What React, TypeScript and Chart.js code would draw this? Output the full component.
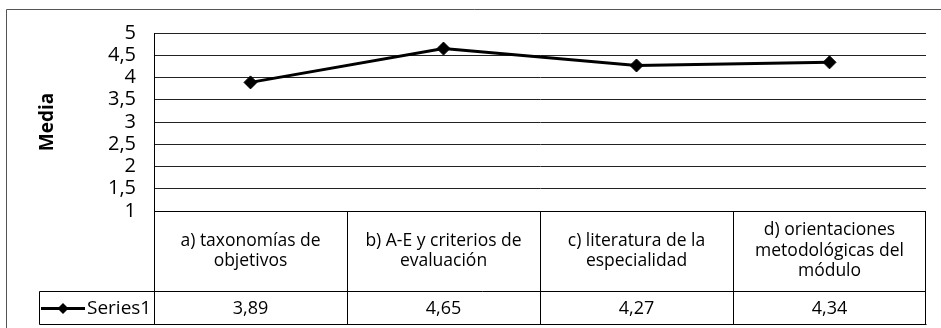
import { useEffect, useRef } from "react";
import { Chart, registerables } from "chart.js";

Chart.register(...registerables);

// Category labels, already broken into lines as they appear in the data table
const categories: string[][] = [
  ["a) taxonomías de", "objetivos"],
  ["b) A-E y criterios de", "evaluación"],
  ["c) literatura de la", "especialidad"],
  ["d) orientaciones", "metodológicas del", "módulo"],
];
const seriesName = "Series1";
const seriesValues = [3.89, 4.65, 4.27, 4.34];
const yMin = 1;
const yMax = 5;
const yStep = 0.5;
const yTitle = "Media";

const FONT = "'Open Sans', 'Noto Sans', sans-serif";
const fmt = (v: number) => String(v).replace(".", ",");

// Outer chart frame (only top and left edges fall inside the canvas)
const framePlugin = {
  id: "frame",
  beforeDraw(chart: any) {
    const ctx = chart.ctx;
    ctx.save();
    ctx.strokeStyle = "#555";
    ctx.lineWidth = 1;
    ctx.beginPath();
    ctx.moveTo(6.5, chart.height + 2);
    ctx.lineTo(6.5, 9.5);
    ctx.lineTo(chart.width + 2, 9.5);
    ctx.stroke();
    ctx.restore();
  },
};

// Data table under the plot: category row, then the series row with its legend key
const tablePlugin = {
  id: "dataTable",
  afterDraw(chart: any) {
    const { ctx, chartArea } = chart;
    const xScale = chart.scales.x;
    const { left, right, bottom } = chartArea;
    const n = categories.length;
    const colW = (right - left) / n;
    const rowMid = bottom + 80;
    const rowBot = bottom + 113;
    const legendLeft = 39;
    const a = (v: number) => Math.round(v) + 0.5;

    ctx.save();
    ctx.strokeStyle = "#000";
    ctx.lineWidth = 1;
    ctx.beginPath();
    // horizontal rules
    ctx.moveTo(left, a(bottom));
    ctx.lineTo(right, a(bottom));
    ctx.moveTo(a(legendLeft), a(rowMid));
    ctx.lineTo(right, a(rowMid));
    ctx.moveTo(a(legendLeft), a(rowBot));
    ctx.lineTo(right + 0.5, a(rowBot));
    // vertical rules
    for (let i = 0; i <= n; i++) {
      const xv = a(left + i * colW - (i === n ? 1 : 0));
      ctx.moveTo(xv, i === 0 ? bottom : a(bottom));
      ctx.lineTo(xv, a(rowBot));
    }
    ctx.moveTo(a(legendLeft), a(rowMid));
    ctx.lineTo(a(legendLeft), a(rowBot));
    ctx.stroke();

    // category labels
    ctx.fillStyle = "#000";
    ctx.textAlign = "center";
    ctx.textBaseline = "middle";
    ctx.font = `500 17.5px ${FONT}`;
    const lh = 20.5;
    const catMid = (bottom + rowMid) / 2;
    categories.forEach((lines, i) => {
      const cx = xScale.getPixelForValue(i);
      const y0 = catMid - ((lines.length - 1) * lh) / 2;
      lines.forEach((t, j) => ctx.fillText(t, cx, y0 + j * lh));
    });

    // series values
    const valMid = (rowMid + rowBot) / 2;
    ctx.font = `500 18px ${FONT}`;
    seriesValues.forEach((v, i) => {
      ctx.fillText(fmt(v), xScale.getPixelForValue(i), valMid + 1);
    });

    // legend key
    const ly = Math.round(valMid) + 0.5;
    ctx.lineWidth = 3;
    ctx.beginPath();
    ctx.moveTo(41, ly);
    ctx.lineTo(85, ly);
    ctx.stroke();
    const dx = 63;
    const r = 5.5;
    ctx.beginPath();
    ctx.moveTo(dx - r, ly);
    ctx.lineTo(dx, ly - r);
    ctx.lineTo(dx + r, ly);
    ctx.lineTo(dx, ly + r);
    ctx.closePath();
    ctx.fill();
    ctx.textAlign = "left";
    ctx.font = `500 19px ${FONT}`;
    ctx.fillText(seriesName, 87, valMid + 1);
    ctx.restore();
  },
};

export default function App() {
  const canvasRef = useRef<HTMLCanvasElement | null>(null);

  useEffect(() => {
    const canvas = canvasRef.current;
    if (!canvas) return;
    const chart = new Chart(canvas, {
      type: "line",
      data: {
        labels: categories.map((c) => c.join(" ")),
        datasets: [
          {
            label: seriesName,
            data: seriesValues,
            borderColor: "#000",
            backgroundColor: "#000",
            borderWidth: 3,
            pointStyle: "rectRot",
            pointRadius: 6.5,
            pointBorderWidth: 1,
            pointBackgroundColor: "#000",
            pointBorderColor: "#000",
            tension: 0,
            clip: false as any,
          },
        ],
      },
      options: {
        responsive: false,
        animation: false,
        devicePixelRatio: 1,
        layout: { padding: { left: 0, top: 33, right: 15, bottom: 117 } },
        plugins: {
          legend: { display: false },
          tooltip: { enabled: false },
        },
        scales: {
          x: {
            type: "category",
            offset: true,
            grid: { display: false },
            border: { display: false },
            ticks: { display: false },
            afterFit: (s: any) => {
              s.height = 0;
            },
          },
          y: {
            min: yMin,
            max: yMax,
            ticks: {
              stepSize: yStep,
              autoSkip: false,
              padding: 18,
              color: "#000",
              font: { family: FONT, size: 20, weight: "500", lineHeight: 1 },
              callback: (v: any) => fmt(Number(v)),
            },
            grid: { color: "#222", lineWidth: 1, drawTicks: false },
            border: { display: true, color: "#000", width: 1 },
            title: {
              display: true,
              text: yTitle,
              color: "#000",
              font: { family: FONT, size: 19, weight: "bold" },
              padding: { top: 36, bottom: 0 },
            },
            afterFit: (s: any) => {
              s.width = 154;
            },
          },
        },
      },
      plugins: [framePlugin, tablePlugin],
    });
    return () => chart.destroy();
  }, []);

  return (
    <div style={{ position: "absolute", left: 0, top: 0, width: 941, height: 328, background: "#fff" }}>
      <canvas ref={canvasRef} width={941} height={328} style={{ width: 941, height: 328, display: "block" }} />
    </div>
  );
}
